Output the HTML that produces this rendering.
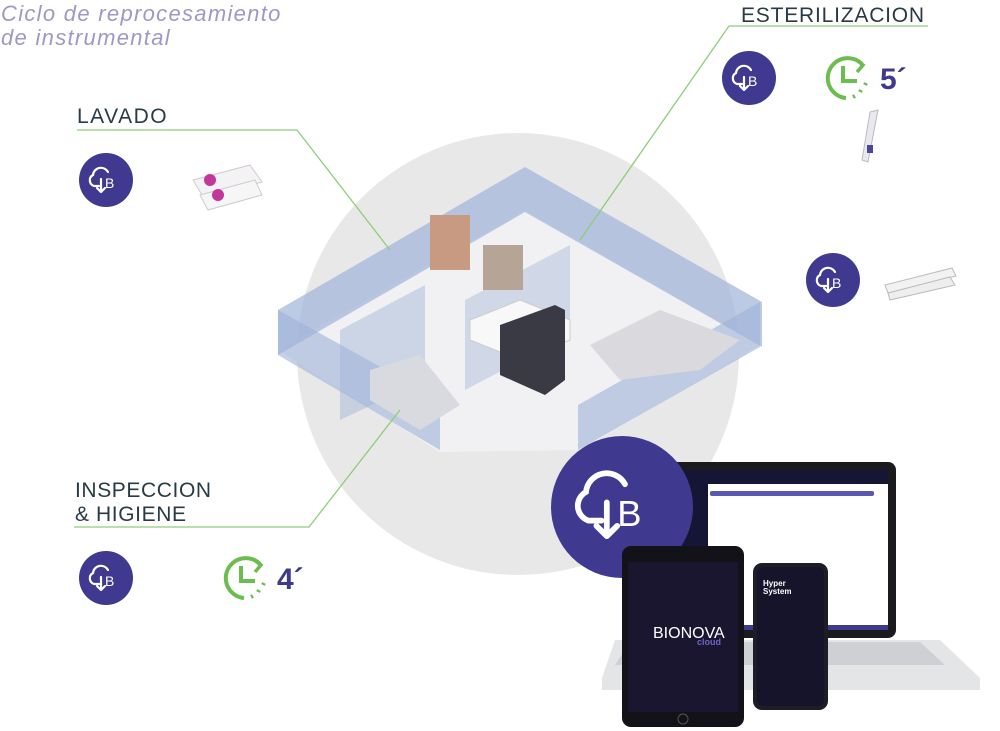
<!DOCTYPE html>
<html><head><meta charset="utf-8"><style>
html,body{margin:0;padding:0;background:#fff;width:1000px;height:731px;overflow:hidden}
svg{display:block}
text{font-family:"Liberation Sans",sans-serif}
</style></head><body>
<svg width="1000" height="731" viewBox="0 0 1000 731" xmlns="http://www.w3.org/2000/svg">
<defs>
<g id="cl">
<path d="M-4,6 H-9 A6,6 0 0 1 -10,-5 A8,8 0 0 1 5,-8" fill="none" stroke="#fff" stroke-width="2.2" stroke-linecap="round"/>
<path d="M-2,-1 V12 M-6,8 L-2,12 L2,8" fill="none" stroke="#fff" stroke-width="2.2" stroke-linecap="round" stroke-linejoin="round"/>
<text x="2" y="8" font-size="14" fill="#fff">B</text>
</g>
<g id="ck">
<path d="M14,-14 A20,20 0 1 0 -2,20" fill="none" stroke="#6cbd4f" stroke-width="4"/>
<path d="M7,-19 L15,-13 L9,-6" fill="none" stroke="#6cbd4f" stroke-width="3.5"/>
<path d="M-5,-12 V3 H9" fill="none" stroke="#6cbd4f" stroke-width="4"/>
<path d="M5,19 L7,18 M12,14 L13,12 M17,7 L18,5" stroke="#6cbd4f" stroke-width="4"/>
</g>
</defs>
<circle cx="518" cy="354" r="221" fill="#e8e8e9"/>
<polygon points="278,350 525,210 760,345 580,450 440,452" fill="#f1f1f3"/>
<polygon points="278,310 525,167 525,212 278,355" fill="#9fb3d8" opacity="0.7"/>
<polygon points="525,167 762,302 762,347 525,212" fill="#9fb3d8" opacity="0.7"/>
<polygon points="278,310 278,355 440,450 440,400" fill="#9fb3d8" opacity="0.6"/>
<polygon points="578,405 760,302 760,347 578,450" fill="#9fb3d8" opacity="0.6"/>
<polygon points="340,330 425,285 425,380 340,420" fill="#9fb3d8" opacity="0.45"/>
<polygon points="465,300 570,245 570,335 465,390" fill="#9fb3d8" opacity="0.4"/>
<rect x="430" y="215" width="40" height="55" fill="#c99a82"/>
<rect x="483" y="245" width="40" height="45" fill="#b6a596"/>
<polygon points="470,320 520,300 570,320 570,340 520,360 470,340" fill="#f8f8f8" stroke="#ccc"/>
<polygon points="500,325 555,305 565,310 565,380 545,395 500,375" fill="#3a3a44"/>
<polygon points="590,345 660,310 740,340 700,370 620,380" fill="#d9d9de"/>
<polygon points="370,370 420,355 460,405 420,430 370,400" fill="#d9dae0"/>
<g>
<rect x="660" y="462" width="236" height="176" rx="8" fill="#1a1a1f"/>
<rect x="668" y="470" width="220" height="160" fill="#fff"/>
<rect x="668" y="470" width="220" height="14" fill="#151535"/>
<rect x="668" y="484" width="40" height="146" fill="#151535"/>
<rect x="710" y="491" width="164" height="5" rx="2" fill="#5b58b3"/>
<rect x="668" y="625" width="220" height="5" fill="#3d3a90"/>
<polygon points="615,640 940,640 980,678 980,690 602,690 602,678" fill="#e4e5e7"/>
<polygon points="630,642 920,642 945,665 615,665" fill="#cfd0d4"/>
<circle cx="622" cy="507" r="71" fill="#3f3a8f"/>
<use href="#cl" transform="translate(612,505) scale(2.6)"/>
<rect x="622" y="546" width="122" height="181" rx="9" fill="#121218"/>
<rect x="628" y="562" width="110" height="150" fill="#1a1630"/>
<circle cx="683" cy="719" r="5" fill="none" stroke="#555"/>
<text x="653" y="638" font-size="16" fill="#fff">BIONOVA</text>
<text x="697" y="645" font-size="9" fill="#6a65c9" font-weight="bold">cloud</text>
<rect x="753" y="563" width="75" height="147" rx="9" fill="#1d1d25"/>
<rect x="757" y="567" width="67" height="139" rx="6" fill="#16142a"/>
<text x="763" y="586" font-size="8" font-weight="bold" fill="#fff">Hyper</text>
<text x="763" y="594" font-size="8" font-weight="bold" fill="#fff">System</text>
</g>
<text x="1" y="21" font-size="22" font-style="italic" fill="#9e98c6" letter-spacing="1.3">Ciclo de reprocesamiento</text>
<text x="1" y="45" font-size="22" font-style="italic" fill="#9e98c6" letter-spacing="1.3">de instrumental</text>
<text x="77" y="123" font-size="21" fill="#2a3a44" letter-spacing="1.5">LAVADO</text>
<text x="741" y="22" font-size="21" fill="#2a3a44" letter-spacing="0.8">ESTERILIZACION</text>
<text x="75" y="497" font-size="21" fill="#2a3a44" letter-spacing="0.6">INSPECCION</text>
<text x="75" y="521" font-size="21" fill="#2a3a44" letter-spacing="0.6">&amp; HIGIENE</text>
<g fill="none" stroke="#8fcc7a" stroke-width="1.3">
<polyline points="77,130 297,130 390,250"/>
<polyline points="928,26 729,26 580,240"/>
<polyline points="74,527 309,527 400,410"/>
</g>
<circle cx="106" cy="180" r="27" fill="#3f3a8f"/><use href="#cl" transform="translate(103,180)"/>
<circle cx="749" cy="78" r="27" fill="#3f3a8f"/><use href="#cl" transform="translate(746,78)"/>
<circle cx="833" cy="280" r="27" fill="#3f3a8f"/><use href="#cl" transform="translate(830,280)"/>
<circle cx="106" cy="578" r="27" fill="#3f3a8f"/><use href="#cl" transform="translate(103,578)"/>
<use href="#ck" transform="translate(848,78)"/>
<text x="880" y="89" font-size="30" font-weight="bold" fill="#3f3a8f">5´</text>
<use href="#ck" transform="translate(246,578)"/>
<text x="277" y="589" font-size="30" font-weight="bold" fill="#3f3a8f">4´</text>
<polygon points="193,180 250,165 262,182 205,200" fill="#f4f2f4" stroke="#ccc"/>
<polygon points="200,195 255,180 262,195 208,210" fill="#f6f6f6" stroke="#ccc"/>
<circle cx="210" cy="180" r="6" fill="#c3379a"/><circle cx="218" cy="195" r="6" fill="#c3379a"/>
<polygon points="870,112 878,110 868,162 862,160" fill="#e8e8f0" stroke="#bbb"/>
<rect x="867" y="145" width="6" height="8" fill="#4a46a0"/>
<polygon points="885,285 952,268 956,276 888,293" fill="#f2f2f2" stroke="#bbb"/>
<polygon points="888,293 950,277 955,285 890,300" fill="#eee" stroke="#bbb"/>
</svg>
</body></html>
